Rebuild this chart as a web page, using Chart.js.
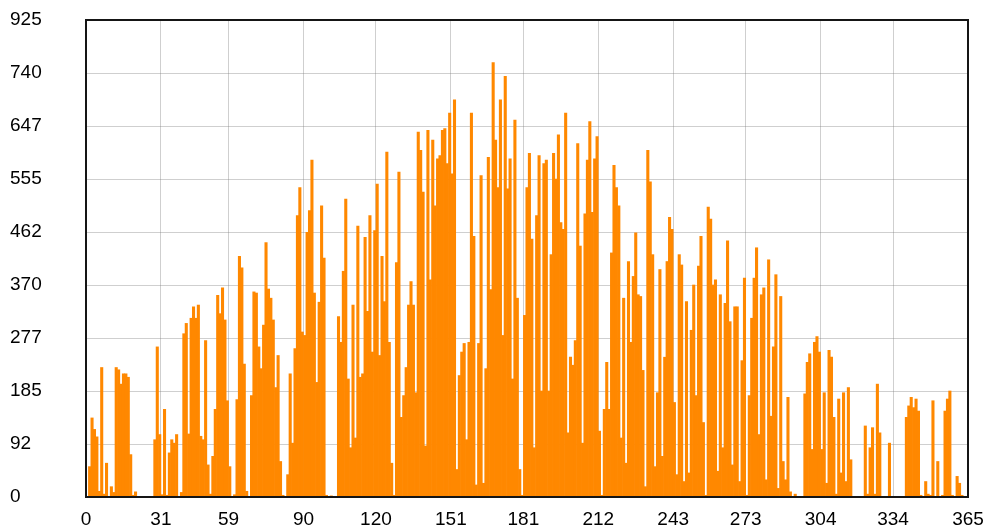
<!DOCTYPE html>
<html>
<head>
<meta charset="utf-8">
<script src="https://cdn.jsdelivr.net/npm/chart.js@4.4.1/dist/chart.umd.min.js"></script>
<style>
  html, body { margin: 0; padding: 0; background: #fff; }
  #wrap { width: 989px; height: 531px; }
</style>
</head>
<body>
<div id="wrap"><canvas id="chart" width="989" height="531"></canvas></div>
<script>
// Valores diarios (dia 0 a 364)
var dailyValues = [
    0, 53, 138, 118, 105, 10, 226, 5, 59, 0,
    18, 8, 226, 222, 197, 215, 215, 209, 74, 3,
    9, 0, 0, 0, 0, 0, 0, 0, 100, 262,
    109, 4, 153, 3, 77, 100, 94, 109, 0, 8,
    285, 303, 110, 312, 332, 312, 335, 106, 100, 273,
    56, 5, 71, 153, 352, 320, 365, 309, 168, 53,
    0, 4, 170, 420, 400, 232, 10, 0, 177, 358,
    356, 262, 224, 300, 444, 363, 347, 309, 191, 247,
    62, 3, 0, 39, 215, 94, 259, 491, 540, 288,
    282, 462, 500, 588, 356, 200, 340, 508, 417, 3,
    0, 2, 0, 0, 315, 270, 394, 520, 206, 86,
    335, 103, 473, 209, 215, 453, 324, 491, 253, 465,
    546, 247, 420, 341, 602, 270, 59, 3, 409, 567,
    139, 177, 226, 335, 376, 335, 182, 637, 605, 532,
    89, 640, 379, 623, 508, 590, 596, 640, 643, 582,
    670, 564, 693, 48, 212, 253, 268, 100, 270, 670,
    455, 21, 268, 561, 24, 224, 593, 362, 758, 623,
    540, 693, 282, 734, 538, 590, 206, 658, 347, 48,
    3, 317, 540, 600, 450, 86, 491, 596, 185, 582,
    588, 185, 423, 600, 555, 632, 479, 467, 670, 112,
    244, 230, 273, 617, 438, 94, 494, 588, 655, 497,
    590, 629, 115, 3, 153, 235, 153, 426, 579, 540,
    508, 103, 347, 59, 411, 270, 385, 461, 353, 350,
    221, 18, 605, 550, 423, 53, 182, 397, 71, 244,
    411, 488, 467, 165, 39, 423, 405, 27, 341, 42,
    291, 370, 177, 403, 455, 130, 3, 506, 485, 370,
    379, 45, 353, 86, 338, 447, 306, 56, 332, 332,
    27, 238, 382, 3, 177, 312, 382, 435, 109, 353,
    365, 30, 414, 141, 262, 388, 15, 350, 62, 30,
    174, 9, 0, 5, 0, 0, 0, 180, 235, 250,
    83, 270, 280, 253, 83, 182, 24, 256, 244, 139,
    5, 171, 42, 182, 27, 191, 65, 0, 0, 0,
    0, 0, 124, 5, 86, 121, 5, 197, 112, 0,
    0, 0, 94, 0, 0, 0, 0, 0, 0, 139,
    159, 174, 156, 171, 150, 3, 0, 27, 5, 3,
    168, 0, 62, 0, 3, 150, 171, 185, 3, 0,
    36, 24, 3, 0, 0
];

// Marcas de los ejes
var xTicks = [0, 31, 59, 90, 120, 151, 181, 212, 243, 273, 304, 334, 365];
var yTicks = [0, 92.5, 185, 277.5, 370, 462.5, 555, 647.5, 740, 832.5];
var yTickLabels = ['0', '92', '185', '277', '370', '462', '555', '647', '740', '925'];

var points = dailyValues.map(function (v, i) {
    return { x: i + 0.5, y: v };
});

var tickFont = { family: 'Liberation Sans', size: 19 };
var gridColor = 'rgba(128, 128, 128, 0.38)';

// Marco negro alrededor del area del grafico
var plotBorder = {
    id: 'plotBorder',
    afterDraw: function (chart) {
        var a = chart.chartArea;
        var ctx = chart.ctx;
        ctx.save();
        ctx.strokeStyle = '#151515';
        ctx.lineWidth = 2;
        ctx.strokeRect(a.left, a.top, a.right - a.left, a.bottom - a.top);
        ctx.restore();
    }
};

var ctx = document.getElementById('chart').getContext('2d');
var chart = new Chart(ctx, {
    type: 'bar',
    data: {
        datasets: [{
            label: 'Valor',
            data: points,
            backgroundColor: '#ff8800',
            borderWidth: 0,
            barPercentage: 1,
            categoryPercentage: 1
        }]
    },
    options: {
        responsive: false,
        animation: false,
        layout: { padding: { left: 10, top: 20, right: 21, bottom: 0 } },
        plugins: {
            legend: { display: false },
            tooltip: { enabled: false }
        },
        scales: {
            x: {
                type: 'linear',
                min: 0,
                max: 365,
                offset: false,
                z: 1,
                grid: { color: gridColor, drawTicks: false, offset: false },
                border: { display: false },
                afterBuildTicks: function (axis) {
                    axis.ticks = xTicks.map(function (v) { return { value: v }; });
                },
                afterFit: function (axis) {
                    axis.height = 34;
                    axis.paddingLeft = 0;
                    axis.paddingRight = 0;
                },
                ticks: {
                    autoSkip: false,
                    maxRotation: 0,
                    padding: 11,
                    color: '#000',
                    font: tickFont,
                    callback: function (v) { return v; }
                }
            },
            y: {
                min: 0,
                max: 832.5,
                z: 1,
                grid: { color: gridColor, drawTicks: false },
                border: { display: false },
                afterBuildTicks: function (axis) {
                    axis.ticks = yTicks.map(function (v) { return { value: v }; });
                },
                afterFit: function (axis) {
                    axis.width = 76;
                    axis.paddingTop = 0;
                    axis.paddingBottom = 0;
                },
                ticks: {
                    crossAlign: 'far',
                    color: '#000',
                    font: tickFont,
                    callback: function (v, i) { return yTickLabels[i]; }
                }
            }
        }
    },
    plugins: [plotBorder]
});
</script>
</body>
</html>
